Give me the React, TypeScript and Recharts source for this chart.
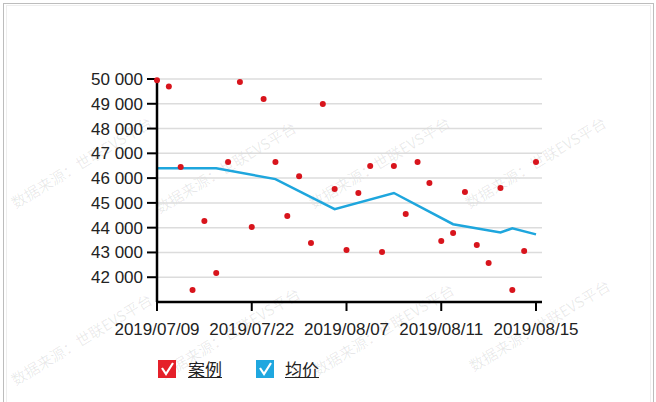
import { ComposedChart, Line, XAxis, YAxis, CartesianGrid } from "recharts";

// 案例 (individual cases), one value per record
const caseValues = [
  49950, 49700, 46450, 41480, 44270, 42170, 46650, 49880, 44030, 49190, 46650,
  44470, 46080, 43380, 48990, 45560, 43100, 45400, 46490, 43020, 46490, 44550,
  46650, 45800, 43460, 43780, 45440, 43300, 42570, 45600, 41480, 43060, 46650,
];

// 均价 (average price), only at the points where the line bends
const avgValues: (number | null)[] = [
  46400, null, null, null, null, 46400, null, null, null, null, 45960,
  null, null, null, null, 44750, null, null, null, null, 45400, null,
  null, null, null, 44140, null, null, null, 43810, 43970, null, 43730,
];

const tickIndex = [0, 8, 16, 24, 32];
const tickLabels = ["2019/07/09", "2019/07/22", "2019/08/07", "2019/08/11", "2019/08/15"];
const yTicks = [42000, 43000, 44000, 45000, 46000, 47000, 48000, 49000, 50000];

const data = caseValues.map((v, i) => ({ i, case: v, avg: avgValues[i] }));

const FONT = "'Liberation Sans', Arial, sans-serif";
const CJK = "'Noto Sans CJK SC', sans-serif";

const watermarks = [
  [16, 195], [160, 200], [314, 195], [470, 195],
  [16, 372], [164, 366], [318, 362], [474, 358],
];

function CheckBox({ color }: { color: string }) {
  return (
    <svg width={18} height={18} style={{ display: "block" }}>
      <rect x={0} y={0} width={18} height={18} fill={color} />
      <polyline points="4,8 8,14 15,3" fill="none" stroke="#fff" strokeWidth={2.2} />
    </svg>
  );
}

export default function App() {
  return (
    <div style={{ position: "absolute", left: 0, top: 0, width: 656, height: 402, background: "#fff", overflow: "hidden" }}>
      <div style={{ position: "absolute", left: 3, top: 3, width: 649, height: 420, border: "1px solid #bdbdbd" }} />
      <div style={{ position: "absolute", left: 6, top: 5, width: 643, height: 420, border: "1px solid #eeeeee" }} />
      {watermarks.map(([x, y], k) => (
        <div
          key={k}
          style={{
            position: "absolute", left: x, top: y, fontFamily: CJK, fontSize: 15, color: "rgba(0,0,0,0.09)",
            transform: "rotate(-31deg)", transformOrigin: "0 100%", whiteSpace: "nowrap", lineHeight: "15px",
          }}
        >
          数据来源：世联EVS平台
        </div>
      ))}
      <div style={{ position: "absolute", left: 0, top: 0 }}>
        <ComposedChart width={656} height={402} data={data} margin={{ top: 79, right: 114, bottom: 70, left: 0 }}>
          <CartesianGrid vertical={false} stroke="#dcdcdc" strokeWidth={1.5} />
          <XAxis
            dataKey="i"
            type="category"
            scale="point"
            ticks={tickIndex}
            interval={0}
            padding={{ left: 0, right: 6 }}
            height={30}
            tickFormatter={(v) => tickLabels[tickIndex.indexOf(v)] ?? ""}
            axisLine={{ stroke: "#000", strokeWidth: 2.5 }}
            tickLine={{ stroke: "#000", strokeWidth: 2 }}
            tickSize={9}
            tickMargin={12}
            tick={{ fill: "#222", fontSize: 17, fontFamily: FONT }}
          />
          <YAxis
            domain={[41000, 50000]}
            ticks={yTicks}
            interval={0}
            width={157}
            tickFormatter={(v) => String(v).replace(/\B(?=(\d{3})+(?!\d))/g, " ")}
            axisLine={{ stroke: "#000", strokeWidth: 2.5 }}
            tickLine={{ stroke: "#000", strokeWidth: 2 }}
            tickSize={10}
            tickMargin={4}
            tick={{ fill: "#222", fontSize: 17, fontFamily: FONT }}
          />
          <Line
            dataKey="avg"
            stroke="#1ea6dd"
            strokeWidth={2.5}
            dot={false}
            connectNulls
            isAnimationActive={false}
          />
          <Line
            dataKey="case"
            stroke="none"
            dot={{ r: 3, fill: "#d8141c", stroke: "none" }}
            activeDot={false}
            isAnimationActive={false}
          />
        </ComposedChart>
      </div>
      <div style={{ position: "absolute", left: 158, top: 360, display: "flex", alignItems: "center", fontFamily: CJK, fontSize: 17, color: "#222" }}>
        <CheckBox color="#e5202a" />
        <span style={{ marginLeft: 12, textDecoration: "underline", lineHeight: "18px" }}>案例</span>
        <span style={{ width: 34 }} />
        <CheckBox color="#1fa7df" />
        <span style={{ marginLeft: 11, textDecoration: "underline", lineHeight: "18px" }}>均价</span>
      </div>
    </div>
  );
}
